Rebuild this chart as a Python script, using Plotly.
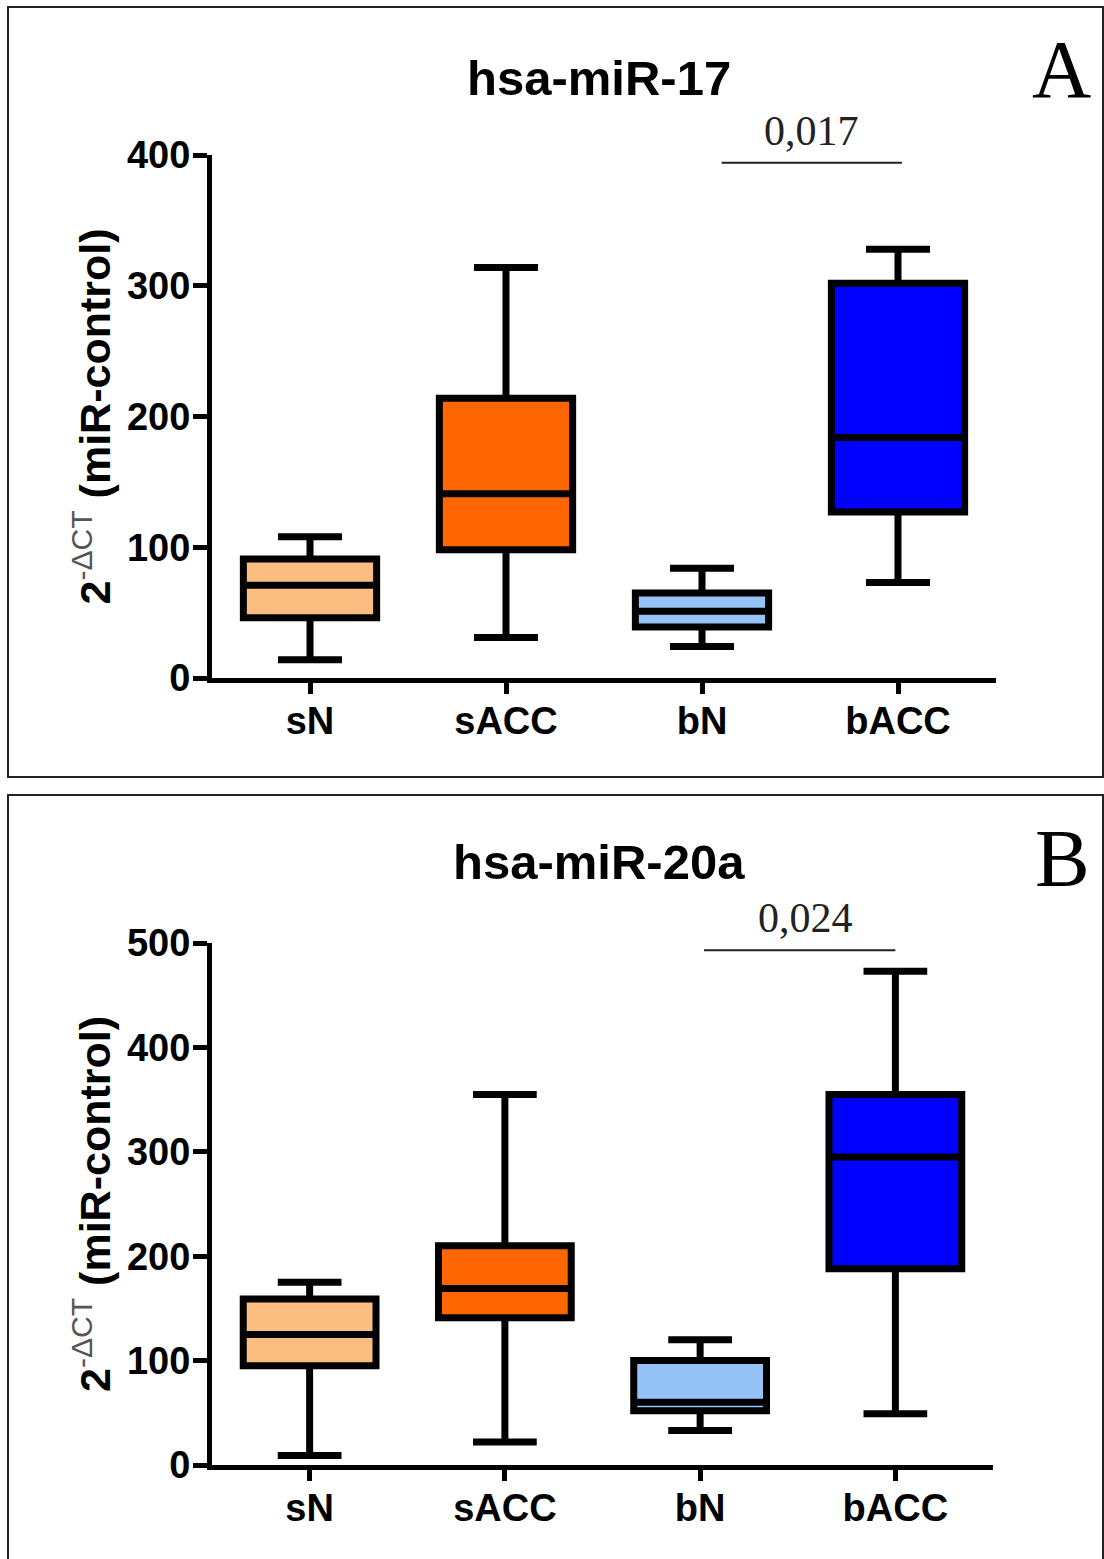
import plotly.graph_objects as go

W, H = 1104, 1559

categories = ["sN", "sACC", "bN", "bACC"]
fill_colors = ["#FBBE80", "#FF6600", "#96C3F6", "#0000FF"]

# hsa-miR-17 (panel A): whisker low, Q1, median, Q3, whisker high
mir17_low = [14, 31, 24, 73]
mir17_q1 = [46, 98, 39, 127]
mir17_med = [71, 141, 51, 184]
mir17_q3 = [91, 214, 65, 302]
mir17_high = [108, 314, 84, 328]

# hsa-miR-20a (panel B)
mir20a_low = [9, 22, 33, 49]
mir20a_q1 = [95, 141, 52, 188]
mir20a_med = [125, 169, 60, 295]
mir20a_q3 = [159, 210, 100, 355]
mir20a_high = [175, 355, 120, 473]

yticks_a = [0, 100, 200, 300, 400]
yticks_b = [0, 100, 200, 300, 400, 500]

p_value_a = "0,017"
p_value_b = "0,024"

SANS = "Liberation Sans, Arial, sans-serif"
SERIF = "Liberation Serif, Times New Roman, serif"

fig = go.Figure()


def add_panel(low, q1, med, q3, high, xa, ya):
    for i, cat in enumerate(categories):
        fig.add_trace(go.Box(
            x=[cat], lowerfence=[low[i]], q1=[q1[i]], median=[med[i]],
            q3=[q3[i]], upperfence=[high[i]],
            fillcolor=fill_colors[i],
            line=dict(color="black", width=7),
            width=0.68, whiskerwidth=0.48,
            boxpoints=False, xaxis=xa, yaxis=ya, showlegend=False,
            hoverinfo="skip",
        ))


add_panel(mir17_low, mir17_q1, mir17_med, mir17_q3, mir17_high, "x", "y")
add_panel(mir20a_low, mir20a_q1, mir20a_med, mir20a_q3, mir20a_high, "x2", "y2")

ytitle = ("2<sup><span style='font-weight:normal;fill:#555555'>-ΔCT</span></sup> (miR-control)")

common_x = dict(
    type="category", categoryorder="array", categoryarray=categories,
    range=[-0.5, 3.5], showline=True, linecolor="black", linewidth=5,
    ticks="outside", ticklen=11, tickwidth=5, tickcolor="black",
    tickfont=dict(family=SANS, size=38, color="black", weight="bold"),
    showgrid=False, zeroline=False, ticklabelstandoff=-6, automargin=False,
)
common_y = dict(
    showline=True, linecolor="black", linewidth=5,
    ticks="outside", ticklen=14, tickwidth=5, tickcolor="black",
    tickfont=dict(family=SANS, size=38, color="black", weight="bold"),
    showgrid=False, zeroline=False, ticklabelstandoff=-5, automargin=False,
    title=dict(text=ytitle, font=dict(family=SANS, size=43, color="black", weight="bold"),
               standoff=4),
)

fig.update_layout(
    width=W, height=H,
    margin=dict(l=0, r=0, t=0, b=0, pad=0, autoexpand=False),
    paper_bgcolor="white", plot_bgcolor="white",
    boxmode="overlay", showlegend=False,
    xaxis=dict(domain=[212 / W, 996 / W], anchor="y", **common_x),
    yaxis=dict(domain=[1 - 678 / H, 1 - 155 / H], anchor="x", range=[0, 400],
               tickvals=yticks_a, **common_y),
    xaxis2=dict(domain=[212 / W, 993 / W], anchor="y2", **common_x),
    yaxis2=dict(domain=[1 - 1465 / H, 1 - 943 / H], anchor="x2", range=[0, 500],
                tickvals=yticks_b, **common_y),
)

# panel borders
fig.add_shape(type="rect", xref="paper", yref="paper",
              x0=8 / W, x1=1103 / W, y0=1 - 777 / H, y1=1 - 7 / H,
              line=dict(color="#222222", width=2), fillcolor="rgba(0,0,0,0)")
fig.add_shape(type="rect", xref="paper", yref="paper",
              x0=8 / W, x1=1103 / W, y0=-0.01, y1=1 - 795 / H,
              line=dict(color="#222222", width=2), fillcolor="rgba(0,0,0,0)")

# significance lines
fig.add_shape(type="line", xref="x", yref="y", x0=2.1, x1=3.02, y0=394, y1=394,
              line=dict(color="#222222", width=2))
fig.add_shape(type="line", xref="x2", yref="y2", x0=2.02, x1=3.0, y0=493, y1=493,
              line=dict(color="#222222", width=2))

# titles
fig.add_annotation(xref="paper", yref="paper", x=599 / W, y=1 - 78 / H,
                   text="hsa-miR-17", showarrow=False, xanchor="center", yanchor="middle",
                   font=dict(family=SANS, size=49, color="black", weight="bold"))
fig.add_annotation(xref="paper", yref="paper", x=599 / W, y=1 - 862 / H,
                   text="hsa-miR-20a", showarrow=False, xanchor="center", yanchor="middle",
                   font=dict(family=SANS, size=49, color="black", weight="bold"))

# panel letters
fig.add_annotation(xref="paper", yref="paper", x=1061 / W, y=1 - 70 / H,
                   text="A", showarrow=False, xanchor="center", yanchor="middle",
                   font=dict(family=SERIF, size=82, color="black"))
fig.add_annotation(xref="paper", yref="paper", x=1062 / W, y=1 - 858 / H,
                   text="B", showarrow=False, xanchor="center", yanchor="middle",
                   font=dict(family=SERIF, size=82, color="black"))

# p-values
fig.add_annotation(xref="paper", yref="paper", x=811 / W, y=1 - 131 / H,
                   text=p_value_a, showarrow=False, xanchor="center", yanchor="middle",
                   font=dict(family=SERIF, size=42, color="#222222"))
fig.add_annotation(xref="paper", yref="paper", x=805 / W, y=1 - 918 / H,
                   text=p_value_b, showarrow=False, xanchor="center", yanchor="middle",
                   font=dict(family=SERIF, size=42, color="#222222"))

fig.write_html(
    "out.html",
    config={"displayModeBar": False},
    post_script="document.body.style.margin='0';"
                "document.documentElement.style.overflow='hidden';",
)
